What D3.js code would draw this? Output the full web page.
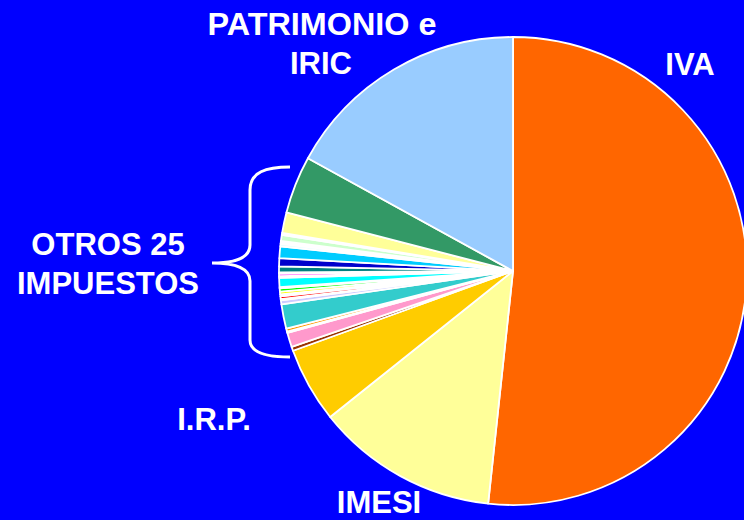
<!DOCTYPE html>
<html>
<head>
<meta charset="utf-8">
<script src="https://cdn.jsdelivr.net/npm/d3@7"></script>
<style>
  html, body { margin: 0; padding: 0; background: #0000ff; overflow: hidden; }
  svg { display: block; }
</style>
</head>
<body>
<script>
// Share of tax collection (%), clockwise from 12 o'clock
const mainNames  = ["IVA", "IMESI", "I.R.P."];
const mainValues = [51.69, 12.58, 5.19];
const mainColors = ["#ff6600", "#ffff99", "#ffcc00"];

// "Otros 25 impuestos" (clockwise after I.R.P.)
const otherValues = [0.28, 1.00, 0.08, 0.22, 1.67, 0.28, 0.08, 0.19, 0.14, 0.19,
                     0.22, 0.08, 0.64, 0.11, 0.17, 0.08, 0.42, 0.56, 0.81, 0.17,
                     0.19, 0.42, 0.14, 1.42, 3.97];
const otherColors = ["#993300", "#ff99cc", "#ffffff", "#ff9900", "#33cccc", "#ccccff", "#ffffff", "#ff0000", "#ffffff", "#ffff00",
                     "#00ff00", "#ffffff", "#00ffff", "#ffffff", "#ff00ff", "#ffffff", "#008080", "#0000cc", "#00ccff", "#ccffff",
                     "#ffffff", "#ccffcc", "#ffffff", "#ffff99", "#339966"];

const lastName  = "PATRIMONIO e IRIC";
const lastValue = 17.0;
const lastColor = "#99ccff";

const data = [];
mainNames.forEach((n, i) => data.push({name: n, value: mainValues[i], color: mainColors[i]}));
otherValues.forEach((v, i) => data.push({name: "Otro " + (i + 1), value: v, color: otherColors[i]}));
data.push({name: lastName, value: lastValue, color: lastColor});

const W = 744, H = 520;
const cx = 513, cy = 271, R = 234;

const svg = d3.select("body").append("svg").attr("width", W).attr("height", H);
svg.append("rect").attr("width", W).attr("height", H).attr("fill", "#0000ff");

const pie = d3.pie().value(d => d.value).sort(null).startAngle(0).endAngle(2 * Math.PI);
const arc = d3.arc().innerRadius(0).outerRadius(R);

svg.append("g").attr("transform", `translate(${cx},${cy})`)
  .selectAll("path").data(pie(data)).join("path")
  .attr("d", arc)
  .attr("fill", d => d.data.color)
  .attr("stroke", "#ffffff")
  .attr("stroke-width", 1.8)
  .attr("stroke-linejoin", "round");

// Brace grouping the small taxes
svg.append("path")
  .attr("d", "M290,167 C266,167 250,172 250,190 L250,245 C250,258 236,263 212,263 C236,263 250,268 250,281 L250,340 C250,352 266,357 290,357")
  .attr("fill", "none").attr("stroke", "#ffffff").attr("stroke-width", 3);

const labels = [
  {t: "PATRIMONIO e", x: 322, y: 35, len: 229},
  {t: "IRIC", x: 321, y: 74},
  {t: "IVA", x: 690, y: 75},
  {t: "OTROS 25", x: 108, y: 255},
  {t: "IMPUESTOS", x: 108, y: 294},
  {t: "I.R.P.", x: 214, y: 430},
  {t: "IMESI", x: 379, y: 513}
];
const tx = svg.append("g")
  .attr("font-family", "'Liberation Sans', Arial, sans-serif")
  .attr("font-weight", "bold").attr("font-size", 31).attr("fill", "#ffffff")
  .attr("text-anchor", "middle");
labels.forEach(l => {
  const t = tx.append("text").attr("x", l.x).attr("y", l.y).text(l.t);
  if (l.len) t.attr("textLength", l.len).attr("lengthAdjust", "spacingAndGlyphs");
});
</script>
</body>
</html>
